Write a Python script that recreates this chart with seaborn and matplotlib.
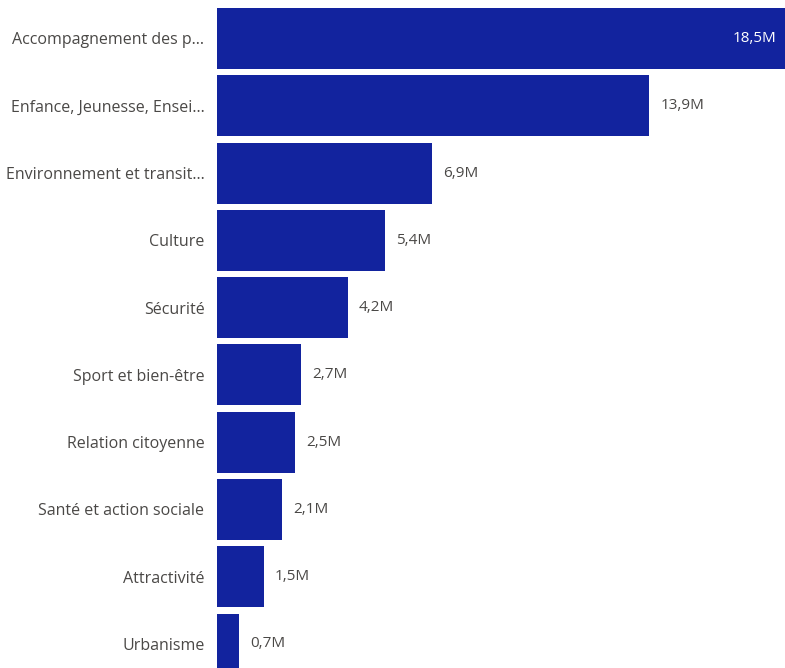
import matplotlib
matplotlib.use("Agg")
import matplotlib.pyplot as plt
import seaborn as sns
import pandas as pd

# values in millions
categories = [
    "Accompagnement des p...",
    "Enfance, Jeunesse, Ensei...",
    "Environnement et transit...",
    "Culture",
    "Sécurité",
    "Sport et bien-être",
    "Relation citoyenne",
    "Santé et action sociale",
    "Attractivité",
    "Urbanisme",
]
values = [18.5, 13.9, 6.9, 5.4, 4.2, 2.7, 2.5, 2.1, 1.5, 0.7]
value_labels = ["18,5M", "13,9M", "6,9M", "5,4M", "4,2M",
                "2,7M", "2,5M", "2,1M", "1,5M", "0,7M"]

df = pd.DataFrame({"Domaine": categories, "Montant": values})

sns.set_style("white")
plt.rcParams["font.family"] = ["Open Sans", "DejaVu Sans"]

BAR = "#12239E"
TXT = "#4A4846"

fig = plt.figure(figsize=(7.85, 6.68), dpi=100)
ax = fig.add_axes([217 / 785, 0, 568 / 785, 1])

sns.barplot(data=df, x="Montant", y="Domaine", orient="h", color=BAR,
            saturation=1, width=0.906, linewidth=0, ax=ax)

xmax = 568 / 31.1
ax.set_xlim(0, xmax)
ax.set_ylim(9.357, -0.572)

# value labels: outside the bar, or inside when the bar is clipped
for i, (v, lab) in enumerate(zip(values, value_labels)):
    if v > xmax:
        ax.annotate(lab, xy=(xmax, i), xytext=(-6, 0), textcoords="offset points",
                    ha="right", va="center", color="white", fontsize=11)
    else:
        ax.annotate(lab, xy=(v, i), xytext=(8, 0), textcoords="offset points",
                    ha="left", va="center", color=TXT, fontsize=11)

ax.set_xlabel("")
ax.set_ylabel("")
ax.set_xticks([])
ax.tick_params(axis="y", length=0, pad=9, labelsize=11.5, labelcolor=TXT)
sns.despine(ax=ax, left=True, bottom=True, top=True, right=True)

fig.savefig("out.png", dpi=100)
